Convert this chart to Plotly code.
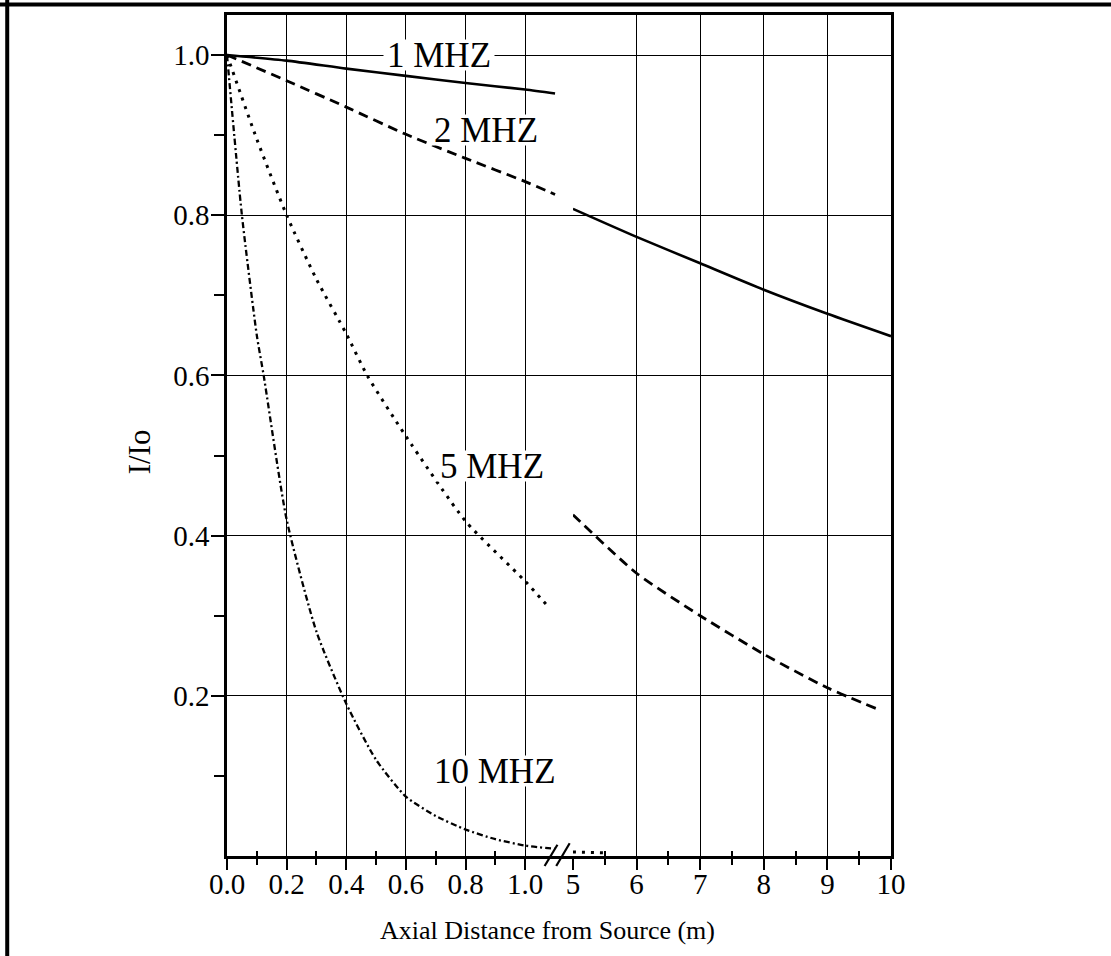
import plotly.graph_objects as go

# ---- data: relative intensity I/Io vs. axial distance -------------------
# near field, 0 - 1.1 m
near_1mhz_x = [0.0, 0.2, 0.4, 0.6, 0.8, 1.0, 1.1]
near_1mhz_y = [1.0, 0.993, 0.983, 0.974, 0.965, 0.957, 0.952]
near_2mhz_x = [0.0, 0.2, 0.4, 0.6, 0.8, 1.0, 1.1]
near_2mhz_y = [1.0, 0.968, 0.935, 0.901, 0.871, 0.842, 0.826]
near_5mhz_x = [0.0, 0.1, 0.2, 0.3, 0.4, 0.47, 0.6, 0.8, 1.0, 1.08]
near_5mhz_y = [1.0, 0.895, 0.80, 0.72, 0.652, 0.60, 0.524, 0.418, 0.343, 0.31]
near_10mhz_x = [0.0, 0.05, 0.1, 0.123, 0.2, 0.3, 0.4, 0.5, 0.6, 0.7, 0.8, 0.9, 1.0, 1.1]
near_10mhz_y = [1.0, 0.80, 0.65, 0.60, 0.42, 0.28, 0.19, 0.12, 0.074, 0.05, 0.033, 0.021, 0.013, 0.009]

# far field, 5 - 10 m
far_1mhz_x = [5, 6, 7, 8, 9, 10]
far_1mhz_y = [0.808, 0.773, 0.740, 0.707, 0.677, 0.649]
far_2mhz_x = [5, 6, 7, 8, 9, 9.8]
far_2mhz_y = [0.426, 0.353, 0.300, 0.252, 0.210, 0.183]
far_5mhz_x = [5.0, 5.5]
far_5mhz_y = [0.005, 0.004]

# axis ticks
near_ticks = [0.0, 0.2, 0.4, 0.6, 0.8, 1.0]
near_labels = ["0.0", "0.2", "0.4", "0.6", "0.8", "1.0"]
near_minor = [0.1, 0.3, 0.5, 0.7, 0.9]
far_ticks = [5, 6, 7, 8, 9, 10]
far_labels = ["5", "6", "7", "8", "9", "10"]
far_minor = [5.5, 6.5, 7.5, 8.5, 9.5]
y_ticks = [0.2, 0.4, 0.6, 0.8, 1.0]
y_labels = ["0.2", "0.4", "0.6", "0.8", "1.0"]
y_minor = [0.1, 0.3, 0.5, 0.7, 0.9]

# curve labels: text, x (near-field scale), y
curve_labels = [
    ("1 MHZ", 0.71, 1.0),
    ("2 MHZ", 0.87, 0.907),
    ("5 MHZ", 0.89, 0.487),
    ("10 MHZ", 0.90, 0.106),
]

# ---- styling ------------------------------------------------------------
SERIF = "Liberation Serif"
INK = "black"
NEAR_MAX = 1.16          # near-field axis runs 0 .. 1.16 so that 5 m sits right after the break
SPLIT = 0.521            # share of the plot width given to the near-field section
Y_MAX = 1.05

styles = {
    "1": dict(color=INK, width=2.6),
    "2": dict(color=INK, width=2.8, dash="10px,6px"),
    "5": dict(color=INK, width=3, dash="3px,6px"),
    "10": dict(color=INK, width=2.3, dash="6px,3px,2px,3px"),
}

fig = go.Figure()


def add(x, y, key, xa, ya):
    fig.add_trace(go.Scatter(
        x=x, y=y, mode="lines", xaxis=xa, yaxis=ya,
        line=dict(shape="spline", smoothing=0.6, **styles[key]),
        showlegend=False, hoverinfo="skip",
    ))


add(near_1mhz_x, near_1mhz_y, "1", "x", "y")
add(near_2mhz_x, near_2mhz_y, "2", "x", "y")
add(near_5mhz_x, near_5mhz_y, "5", "x", "y")
add(near_10mhz_x, near_10mhz_y, "10", "x", "y")
add(far_1mhz_x, far_1mhz_y, "1", "x2", "y2")
add(far_2mhz_x, far_2mhz_y, "2", "x2", "y2")
add(far_5mhz_x, far_5mhz_y, "5", "x2", "y2")

# empty traces so the overlay axes (inner halves of the minor ticks) get drawn
fig.add_trace(go.Scatter(x=[], y=[], xaxis="x3", yaxis="y", showlegend=False))
fig.add_trace(go.Scatter(x=[], y=[], xaxis="x4", yaxis="y2", showlegend=False))

tickfont = dict(family=SERIF, size=29, color=INK)
common_x = dict(
    showline=True, linewidth=2.5, linecolor=INK, mirror=True,
    showgrid=True, gridcolor=INK, gridwidth=1.2, zeroline=False,
    ticks="outside", ticklen=11, tickwidth=2, tickcolor=INK,
    tickfont=tickfont, tickmode="array", fixedrange=True,
    ticklabelstandoff=-11,
)
inner_minor = dict(
    ticks="inside", ticklen=5, tickwidth=2, tickcolor=INK, tickmode="array",
    showticklabels=False, showgrid=False, showline=False, zeroline=False,
)

fig.update_layout(
    width=1111, height=956,
    margin=dict(l=227, r=220, t=15, b=100),
    paper_bgcolor="white", plot_bgcolor="white",
    xaxis=dict(
        domain=[0, SPLIT], range=[0, NEAR_MAX], anchor="y",
        tickvals=near_ticks, ticktext=near_labels,
        minor=dict(tickmode="array", tickvals=near_minor, ticks="outside",
                   ticklen=6, tickwidth=2, tickcolor=INK, showgrid=False),
        **common_x,
    ),
    xaxis2=dict(
        domain=[SPLIT, 1], range=[5, 10], anchor="y2",
        tickvals=far_ticks, ticktext=far_labels,
        minor=dict(tickmode="array", tickvals=far_minor, ticks="outside",
                   ticklen=6, tickwidth=2, tickcolor=INK, showgrid=False),
        **common_x,
    ),
    xaxis3=dict(overlaying="x", matches="x", anchor="y", tickvals=near_minor, **inner_minor),
    xaxis4=dict(overlaying="x2", matches="x2", anchor="y2", tickvals=far_minor, **inner_minor),
    yaxis=dict(
        domain=[0, 1], range=[0, Y_MAX], anchor="x",
        tickmode="array", tickvals=y_ticks, ticktext=y_labels,
        ticks="outside", ticklen=13, tickwidth=2, tickcolor=INK,
        minor=dict(tickmode="array", tickvals=y_minor, ticks="outside",
                   ticklen=10, tickwidth=2, tickcolor=INK, showgrid=False),
        showline=True, linewidth=2.6, linecolor=INK,
        showgrid=True, gridcolor=INK, gridwidth=1.2, zeroline=False,
        tickfont=tickfont, fixedrange=True, ticklabelstandoff=-4,
    ),
    yaxis2=dict(
        domain=[0, 1], matches="y", anchor="x2", side="right",
        tickmode="array", tickvals=y_ticks, ticks="", showticklabels=False,
        showline=True, linewidth=2.6, linecolor=INK,
        showgrid=True, gridcolor=INK, gridwidth=1.2, zeroline=False,
        fixedrange=True,
    ),
)

# curve labels on a tight white patch (box height trimmed to the capitals)
for text, lx, ly in curve_labels:
    fig.add_annotation(
        x=lx, y=ly, xref="x", yref="y", text=text, showarrow=False,
        font=dict(family=SERIF, size=35, color=INK),
        bgcolor="white", borderpad=3, height=24,
        xanchor="center", yanchor="middle", valign="middle",
    )

# axis titles
fig.add_annotation(
    x=0.483, y=-0.088, xref="paper", yref="paper", showarrow=False,
    text="Axial Distance from Source (m)",
    font=dict(family=SERIF, size=26, color=INK), xanchor="center", yanchor="middle",
)
fig.add_annotation(
    x=-0.1325, y=0.48, xref="paper", yref="paper", showarrow=False,
    text="I/Io", textangle=-90,
    font=dict(family=SERIF, size=31, color=INK), xanchor="center", yanchor="middle",
)


# axis-break slashes between 1.0 m and 5 m (near-field units / intensity units)
def to_paper(u, v):
    return u * SPLIT / NEAR_MAX, v / Y_MAX


for (u0, v0), (u1, v1) in [((1.065, -0.0125), (1.108, 0.014)),
                           ((1.104, -0.0125), (1.149, 0.016))]:
    px0, py0 = to_paper(u0, v0)
    px1, py1 = to_paper(u1, v1)
    fig.add_shape(type="line", xref="paper", yref="paper",
                  x0=px0, y0=py0, x1=px1, y1=py1,
                  line=dict(color=INK, width=2.2))

# page frame: heavy rule along the top and down the left side
fig.add_shape(type="line", xref="paper", yref="paper",
              x0=-0.345, x1=1.335, y0=1.0125, y1=1.0125,
              line=dict(color=INK, width=4))
fig.add_shape(type="line", xref="paper", yref="paper",
              x0=-0.331, x1=-0.331, y0=1.02, y1=-0.125,
              line=dict(color=INK, width=4))

fig.write_html("out.html")
